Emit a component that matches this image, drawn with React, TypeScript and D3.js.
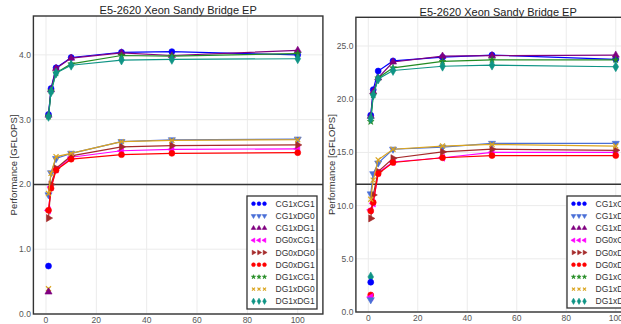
import React from 'react';
import * as d3 from 'd3';

const WIDTH = 621;
const HEIGHT = 324;
const FONT = '"Liberation Sans", Arial, Helvetica, sans-serif';

// thread counts on the x axis
const threads = [1, 2, 4, 10, 30, 50, 100];
const xTicks = [0, 20, 40, 60, 80, 100];

const seriesNames = [
  'CG1xCG1', 'CG1xDG0', 'CG1xDG1', 'DG0xCG1', 'DG0xDG0',
  'DG0xDG1', 'DG1xCG1', 'DG1xDG0', 'DG1xDG1',
];

// left run, GFLOPS per series
const leftCG1xCG1 = [3.08, 3.48, 3.80, 3.96, 4.04, 4.05, 4.00];
const leftCG1xDG0 = [1.84, 2.18, 2.40, 2.48, 2.66, 2.69, 2.70];
const leftCG1xDG1 = [3.07, 3.46, 3.79, 3.95, 4.03, 3.99, 4.07];
const leftDG0xCG1 = [1.60, 1.96, 2.23, 2.42, 2.52, 2.54, 2.55];
const leftDG0xDG0 = [1.48, 2.00, 2.25, 2.44, 2.58, 2.60, 2.61];
const leftDG0xDG1 = [1.60, 1.94, 2.22, 2.39, 2.46, 2.48, 2.49];
const leftDG1xCG1 = [3.05, 3.44, 3.72, 3.86, 3.99, 3.98, 4.02];
const leftDG1xDG0 = [1.86, 2.17, 2.43, 2.48, 2.66, 2.68, 2.69];
const leftDG1xDG1 = [3.05, 3.43, 3.72, 3.84, 3.92, 3.93, 3.94];
const leftSingleNames = ['CG1xCG1', 'DG1xDG0', 'CG1xDG1'];
const leftSingleValues = [0.74, 0.39, 0.34];
const leftYTicks = [0, 1, 2, 3, 4];

// right run, GFLOPS per series
const rightCG1xCG1 = [18.5, 20.9, 22.65, 23.6, 23.95, 24.15, 23.75];
const rightCG1xDG0 = [11.1, 13.0, 14.0, 15.3, 15.5, 15.85, 15.85];
const rightCG1xDG1 = [18.4, 20.7, 22.0, 23.5, 24.05, 24.1, 24.15];
const rightDG0xCG1 = [9.6, 10.2, 13.1, 14.1, 14.5, 15.0, 15.0];
const rightDG0xDG0 = [8.8, 11.0, 13.2, 14.45, 15.05, 15.3, 15.2];
const rightDG0xDG1 = [9.5, 10.3, 13.0, 14.05, 14.5, 14.7, 14.7];
const rightDG1xCG1 = [17.9, 20.4, 22.0, 22.95, 23.55, 23.7, 23.7];
const rightDG1xDG0 = [10.6, 12.4, 14.3, 15.3, 15.6, 15.75, 15.6];
const rightDG1xDG1 = [18.2, 20.4, 21.9, 22.7, 23.1, 23.2, 23.05];
const rightSingleNames = ['DG1xDG1', 'CG1xCG1', 'DG0xDG1', 'DG0xCG1', 'CG1xDG0'];
const rightSingleValues = [3.3, 2.8, 1.6, 1.4, 1.15];
const rightYTicks = [0, 5, 10, 15, 20, 25];

const styles: Record<string, { color: string; symbol: d3.SymbolType; stroke?: boolean; size: number }> = {
  CG1xCG1: { color: '#0000ff', symbol: d3.symbolCircle, size: 28 },
  CG1xDG0: { color: '#4a6fd6', symbol: d3.symbolTriangle, size: 22 },
  CG1xDG1: { color: '#800080', symbol: d3.symbolTriangle, size: 22 },
  DG0xCG1: { color: '#ff00ff', symbol: d3.symbolTriangle, size: 22 },
  DG0xDG0: { color: '#a52a2a', symbol: d3.symbolTriangle, size: 22 },
  DG0xDG1: { color: '#ff0000', symbol: d3.symbolCircle, size: 28 },
  DG1xCG1: { color: '#228b22', symbol: d3.symbolStar, size: 14 },
  DG1xDG0: { color: '#daa520', symbol: d3.symbolTimes, stroke: true, size: 18 },
  DG1xDG1: { color: '#0f9485', symbol: d3.symbolDiamond, size: 28 },
};
const rotation: Record<string, number> = { CG1xDG0: 180, DG0xCG1: -90, DG0xDG0: 90 };

const panels = [
  {
    key: 'left',
    values: [leftCG1xCG1, leftCG1xDG0, leftCG1xDG1, leftDG0xCG1, leftDG0xDG0, leftDG0xDG1, leftDG1xCG1, leftDG1xDG0, leftDG1xDG1],
    singleNames: leftSingleNames,
    singleValues: leftSingleValues,
    yTicks: leftYTicks,
    yMax: 4.6,
    refLine: 2.0,
    xRange: [33.4, 322.9],
    yRange: [314, 16],
    titleY: 14,
    labelX: 17,
    legend: { x: 247, y: 196, w: 70, h: 113 },
  },
  {
    key: 'right',
    values: [rightCG1xCG1, rightCG1xDG0, rightCG1xDG1, rightDG0xCG1, rightDG0xDG0, rightDG0xDG1, rightDG1xCG1, rightDG1xDG0, rightDG1xDG1],
    singleNames: rightSingleNames,
    singleValues: rightSingleValues,
    yTicks: rightYTicks,
    yMax: 27.7,
    refLine: 12.0,
    xRange: [355.9, 640.5],
    yRange: [312, 17.3],
    titleY: 16,
    labelX: 335,
    legend: { x: 567, y: 196, w: 80, h: 112 },
  },
];

const Marker = ({ name, x, y, scale = 1 }: { name: string; x: number; y: number; scale?: number }) => {
  const st = styles[name];
  const d = d3.symbol().type(st.symbol).size(st.size * scale)() as string;
  return (
    <path
      d={d}
      transform={`translate(${x},${y}) rotate(${rotation[name] || 0})`}
      fill={st.stroke ? 'none' : st.color}
      stroke={st.color}
      strokeWidth={st.stroke ? 1.2 : 0.6}
    />
  );
};

const Panel = ({ p }: { p: (typeof panels)[number] }) => {
  const x = d3.scaleLinear().domain([-5, 110]).range(p.xRange);
  const y = d3.scaleLinear().domain([0, p.yMax]).range(p.yRange);
  const line = d3
    .line<number>()
    .x((_, i) => x(threads[i]))
    .y((v) => y(v));
  const [x0, x1] = p.xRange;
  const [yb, yt] = p.yRange;
  const cx = (x0 + x1) / 2;
  const cy = (yb + yt) / 2;

  return (
    <g>
      <rect x={x0} y={yt} width={x1 - x0} height={yb - yt} fill="#fff" />
      {xTicks.map((t) => (
        <line key={`gx${t}`} x1={x(t)} x2={x(t)} y1={yt} y2={yb} stroke="#ebebeb" strokeWidth={1} />
      ))}
      {p.yTicks.map((t) => (
        <line key={`gy${t}`} x1={x0} x2={x1} y1={y(t)} y2={y(t)} stroke="#ebebeb" strokeWidth={1} />
      ))}
      <line x1={x0} x2={x1} y1={y(p.refLine)} y2={y(p.refLine)} stroke="#333" strokeWidth={1.5} />

      {seriesNames.map((name, si) => (
        <g key={name}>
          <path d={line(p.values[si]) as string} fill="none" stroke={styles[name].color} strokeWidth={1.2} />
          {p.values[si].map((v, i) => (
            <Marker key={i} name={name} x={x(threads[i])} y={y(v)} />
          ))}
        </g>
      ))}
      {p.singleNames.map((name, i) => (
        <Marker key={`s${i}`} name={name} x={x(1)} y={y(p.singleValues[i])} />
      ))}

      <rect x={x0} y={yt} width={x1 - x0} height={yb - yt} fill="none" stroke="#333" strokeWidth={1.4} />

      {p.yTicks.map((t) => (
        <text key={`ty${t}`} x={x0 - 2.5} y={y(t) + 3} textAnchor="end" fontSize={8.5} fill="#555" fontFamily={FONT}>
          {t.toFixed(1)}
        </text>
      ))}
      {xTicks.map((t) => (
        <text key={`tx${t}`} x={x(t)} y={yb + 8.5} textAnchor="middle" fontSize={8.5} fill="#555" fontFamily={FONT}>
          {t}
        </text>
      ))}

      <text x={Math.min(cx, WIDTH)} y={p.titleY} textAnchor="middle" fontSize={11} fill="#222" fontFamily={FONT}>
        E5-2620 Xeon Sandy Bridge EP
      </text>
      <text
        transform={`translate(${p.labelX},${cy}) rotate(-90)`}
        textAnchor="middle"
        fontSize={9.5}
        fill="#333"
        fontFamily={FONT}
      >
        Performance [GFLOPS]
      </text>

      <g>
        <rect x={p.legend.x} y={p.legend.y} width={p.legend.w} height={p.legend.h} fill="#fff" stroke="#333" strokeWidth={1.3} />
        {seriesNames.map((name, i) => {
          const ly = p.legend.y + 7.7 + i * 12.2;
          return (
            <g key={`lg${name}`}>
              {[6.5, 12, 17.5].map((dx) => (
                <Marker key={dx} name={name} x={p.legend.x + dx} y={ly} scale={0.4} />
              ))}
              <text x={p.legend.x + 28.5} y={ly + 3} fontSize={8.5} fill="#333" fontFamily={FONT}>
                {name}
              </text>
            </g>
          );
        })}
      </g>
    </g>
  );
};

export default function App() {
  return (
    <svg
      width={WIDTH}
      height={HEIGHT}
      style={{ position: 'absolute', left: 0, top: 0, background: '#fff' }}
    >
      <rect width={WIDTH} height={HEIGHT} fill="#fff" />
      {panels.map((p) => (
        <Panel key={p.key} p={p} />
      ))}
    </svg>
  );
}
